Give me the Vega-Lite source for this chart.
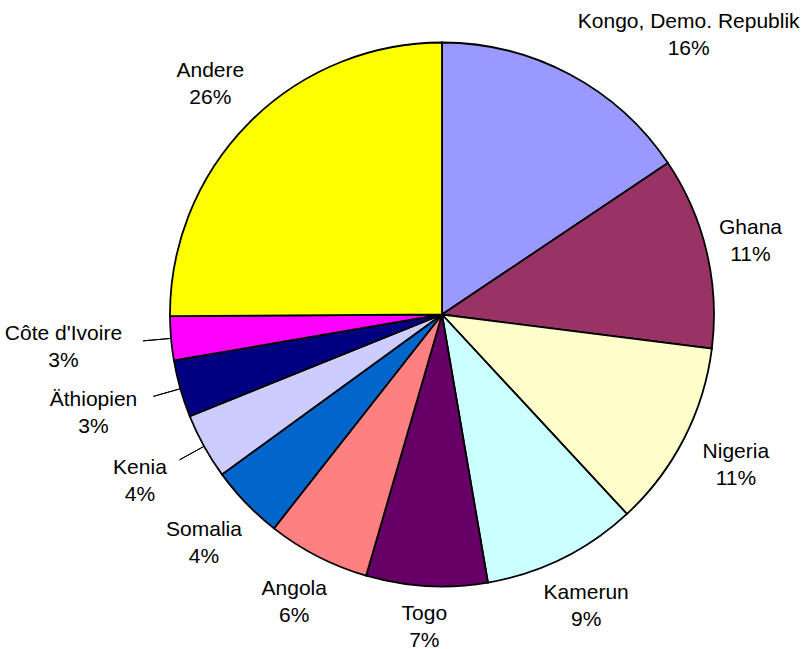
{
  "$schema": "https://vega.github.io/schema/vega-lite/v6.json",
  "width": 724,
  "height": 629,
  "autosize": {"type": "none"},
  "padding": {"left": 80, "top": 0, "right": 0, "bottom": 20},
  "background": "white",
  "config": {"view": {"stroke": null}},
  "data": {
    "values": [
      {"ord": 1, "land": "Kongo, Demo. Republik", "wert": 15.6, "prozent": 16},
      {"ord": 2, "land": "Ghana", "wert": 11.4, "prozent": 11},
      {"ord": 3, "land": "Nigeria", "wert": 11.1, "prozent": 11},
      {"ord": 4, "land": "Kamerun", "wert": 9.2, "prozent": 9},
      {"ord": 5, "land": "Togo", "wert": 7.2, "prozent": 7},
      {"ord": 6, "land": "Angola", "wert": 6.1, "prozent": 6},
      {"ord": 7, "land": "Somalia", "wert": 4.4, "prozent": 4},
      {"ord": 8, "land": "Kenia", "wert": 3.9, "prozent": 4},
      {"ord": 9, "land": "Äthiopien", "wert": 3.4, "prozent": 3},
      {"ord": 10, "land": "Côte d'Ivoire", "wert": 2.6, "prozent": 3},
      {"ord": 11, "land": "Andere", "wert": 25.1, "prozent": 26}
    ]
  },
  "transform": [
    {"joinaggregate": [{"op": "sum", "field": "wert", "as": "total"}]},
    {"window": [{"op": "sum", "field": "wert", "as": "cum"}], "sort": [{"field": "ord", "order": "ascending"}], "frame": [null, 0]},
    {"calculate": "(datum.cum - datum.wert / 2) / datum.total * 2 * PI", "as": "a"},
    {"calculate": "datum.land + '\\n' + datum.prozent + '%'", "as": "txt"},
    {"calculate": "length(datum.land) * 5.3", "as": "hw"},
    {"calculate": "285 + (datum.wert < 4 ? 24 : 0) + datum.hw * abs(sin(datum.a)) + 27 * abs(cos(datum.a))", "as": "r"},
    {"calculate": "datum.r * sin(datum.a)", "as": "px"},
    {"calculate": "-datum.r * cos(datum.a)", "as": "py"},
    {"calculate": "datum.py < -279.5 ? -279.5 : datum.py", "as": "qy"},
    {"calculate": "datum.py < -279.5 ? min(358 - datum.hw, max(datum.px, sqrt(272 * 272 - pow(datum.qy + 27, 2)) + 38 + datum.hw)) : datum.px", "as": "qx"},
    {"calculate": "sqrt(datum.qx * datum.qx + datum.qy * datum.qy)", "as": "lr"},
    {"calculate": "atan2(datum.qx, -datum.qy)", "as": "lt"}
  ],
  "layer": [
    {
      "mark": {"type": "arc", "radius": 272, "stroke": "black", "strokeWidth": 1.8},
      "encoding": {
        "theta": {"field": "wert", "type": "quantitative", "stack": true},
        "order": {"field": "ord", "type": "quantitative"},
        "color": {
          "field": "land",
          "type": "nominal",
          "legend": null,
          "scale": {
            "domain": ["Kongo, Demo. Republik", "Ghana", "Nigeria", "Kamerun", "Togo", "Angola", "Somalia", "Kenia", "Äthiopien", "Côte d'Ivoire", "Andere"],
            "range": ["#9999FF", "#993366", "#FFFFCC", "#CCFFFF", "#660066", "#FF8080", "#0066CC", "#CCCCFF", "#000080", "#FF00FF", "#FFFF00"]
          }
        }
      }
    },
    {
      "transform": [{"filter": "datum.wert < 4"}],
      "mark": {"type": "arc", "radius": 300, "radius2": 272, "stroke": "black", "strokeWidth": 1, "fill": null},
      "encoding": {
        "theta": {"field": "a", "type": "quantitative", "scale": null, "stack": null},
        "theta2": {"field": "a"}
      }
    },
    {
      "mark": {"type": "text", "font": "Liberation Sans", "fontSize": 21, "lineBreak": "\n", "lineHeight": 27, "align": "center", "baseline": "middle", "dy": -13.5, "color": "black"},
      "encoding": {
        "theta": {"field": "lt", "type": "quantitative", "scale": null, "stack": null},
        "radius": {"field": "lr", "type": "quantitative", "scale": null},
        "text": {"field": "txt"}
      }
    }
  ]
}
